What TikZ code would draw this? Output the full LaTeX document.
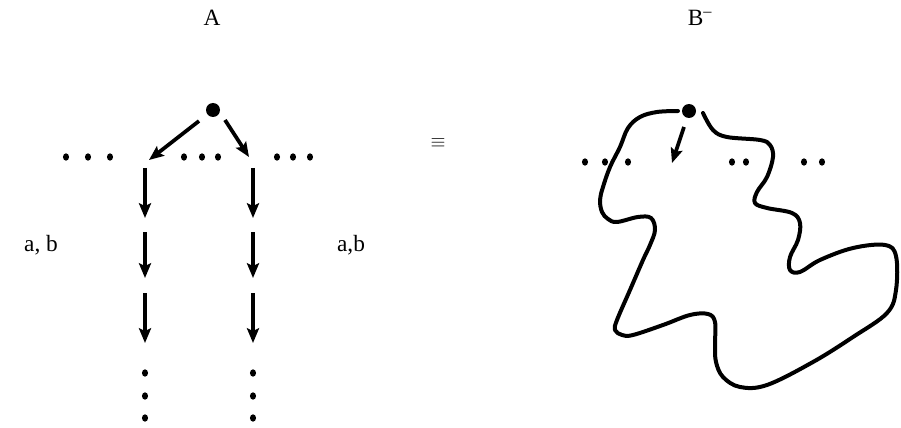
\documentclass[tikz,border=0pt]{standalone}
\usepackage{fontspec}
\setmainfont{Liberation Serif}
\usetikzlibrary{arrows.meta,shapes.geometric}
\begin{document}
\begin{tikzpicture}[x=0.75pt,y=-0.75pt,
  lbl/.style={inner sep=0pt,font=\fontsize{17.5}{20}\selectfont},
  bigdot/.style={circle,fill=black,inner sep=0pt,minimum size=10.5pt},
  smalldot/.style={ellipse,fill=black,inner sep=0pt,minimum width=4.6pt,minimum height=5.6pt},
  arr/.style={line width=2.8pt,-{Stealth[length=11pt,width=9pt,inset=2pt]}},
  blob/.style={line width=3pt,line cap=round,line join=round}]
\useasboundingbox (0,0) rectangle (901,428);
% titles
\node[lbl] (tA) at (212,18) {A};
\node[lbl] (tB) at (700,18) {B\textsuperscript{\raisebox{0.1ex}{--}}};
\node[lbl,font=\fontsize{15}{15}\selectfont] (eqv) at (438,143) {$\equiv$};
% left diagram
\node[bigdot] (r) at (213,110) {};
\foreach \x [count=\i] in {66,88,110,184,202,218,277,293,310}
  \node[smalldot] (d\i) at (\x,157) {};
\coordinate (l1s) at (199,121); \coordinate (l1e) at (149,160);
\coordinate (r1s) at (225,120); \coordinate (r1e) at (249,157);
\draw[arr] (l1s) -- (l1e);
\draw[arr] (r1s) -- (r1e);
\foreach \c/\x in {L/145,R/253}{
  \coordinate (\c a) at (\x,168); \coordinate (\c b) at (\x,218);
  \coordinate (\c c) at (\x,232); \coordinate (\c d) at (\x,278);
  \coordinate (\c e) at (\x,293); \coordinate (\c f) at (\x,343);
  \draw[arr] (\c a) -- (\c b);
  \draw[arr] (\c c) -- (\c d);
  \draw[arr] (\c e) -- (\c f);
  \node[smalldot] (\c v1) at (\x,373) {};
  \node[smalldot] (\c v2) at (\x,396) {};
  \node[smalldot] (\c v3) at (\x,418) {};
}
\node[lbl] (ab1) at (41,245) {a, b};
\node[lbl] (ab2) at (351,245) {a,b};
% right diagram
\node[bigdot] (q) at (689,111) {};
\foreach \x [count=\i] in {585,605,628,732,746,804,822}
  \node[smalldot] (e\i) at (\x,162) {};
\coordinate (qs) at (684,127); \coordinate (qe) at (672,163);
\draw[arr] (qs) -- (qe);
\draw[blob] plot[smooth,tension=0.6] coordinates {
(678,111) (657,112) (640,117) (628,128) (620,147) (610,167) (603,187) (600,200)
(602,212) (608,219) (617,222) (638,217) (651,218) (655,230) (650,245) (643,260)
(630,290) (617,320) (615,330) (622,335) (633,335) (663,325) (690,315) (708,314)
(715,322) (715,345) (716,362) (723,377) (740,387) (767,385) (813,362) (853,337)
(887,313) (896,290) (896,256) (885,245) (853,248) (820,260) (800,272) (790,270)
(790,257) (798,240) (800,223) (792,213) (767,208) (755,203) (757,192) (767,177)
(773,157) (770,145) (760,140) (727,137) (713,130) (703,113)};
\end{tikzpicture}
\end{document}
